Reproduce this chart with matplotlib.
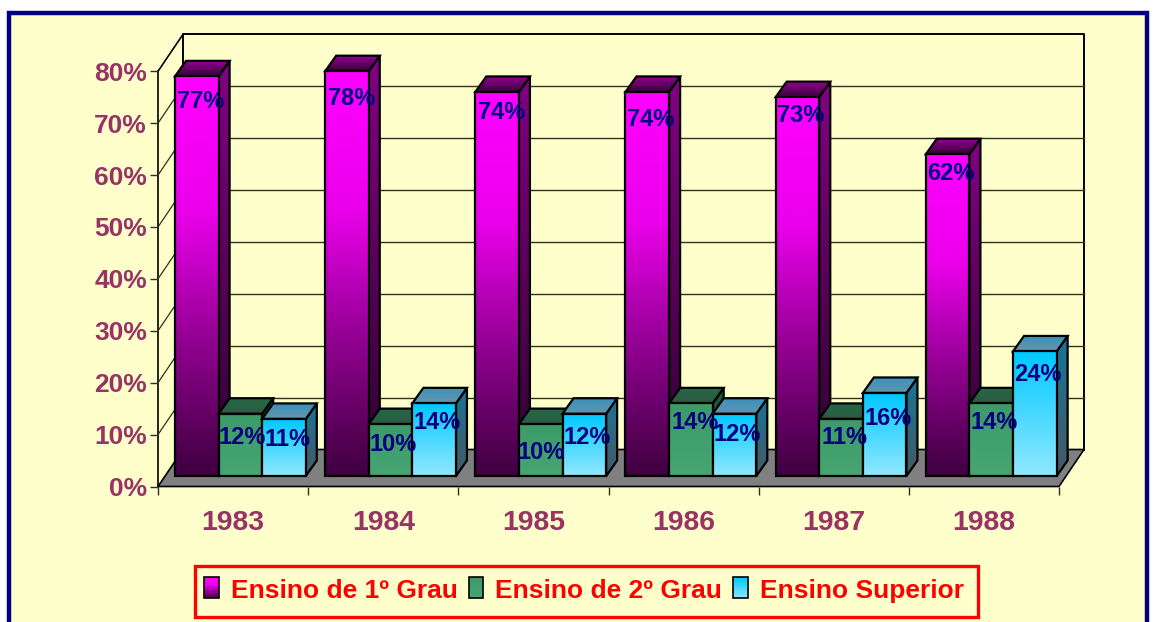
import numpy as np
import matplotlib
matplotlib.use('Agg')
import matplotlib.pyplot as plt
from matplotlib.patches import Polygon, Rectangle
from matplotlib.legend_handler import HandlerBase
from matplotlib.colors import LinearSegmentedColormap

plt.rcParams['font.family'] = ['Liberation Sans', 'DejaVu Sans']

# Data
years = ['1983', '1984', '1985', '1986', '1987', '1988']
ensino_1 = [77, 78, 74, 74, 73, 62]
ensino_2 = [12, 10, 10, 14, 11, 14]
ensino_sup = [11, 14, 12, 12, 16, 24]
series_names = ['Ensino de 1º Grau', 'Ensino de 2º Grau', 'Ensino Superior']
y_ticks = [0, 10, 20, 30, 40, 50, 60, 70, 80]

# Layout, pixels of the 1155x622 picture
W, H = 1155, 622
px_x, px_y = 150.17, 5.19     # pixels per category / per percent
wall_dx, wall_dy = 25 / px_x, 37 / px_y
bar_dx, bar_dy = 11 / px_x, 15.5 / px_y
base_dx, base_dy = 7 / px_x, 10.5 / px_y
bar_w = 43.6 / px_x
group_off = 10 / px_x

# label offset under the bar top, in pixels, same order as the series
label_drop = [[23, 25, 19, 26, 16, 17],
              [22, 18, 26, 17, 17, 17],
              [19, 17, 22, 19, 24, 21]]
# small sideways nudge of each label, pixels
label_shift = [[1, 2, 1, 0, 0, 0],
               [-1, 0, -3, 1, 0, 0],
               [1, 0, 0, 0, 0, 0]]

BG = '#FFFFCC'
TICK = '#993366'
NAVY = '#000080'

front = [[(255, 0, 255), (235, 0, 235), (145, 0, 145), (64, 0, 64)],
         [(60, 155, 105), (70, 165, 115)],
         [(0, 200, 255), (145, 232, 255)]]
side = [[(130, 0, 130), (45, 0, 45)],
        [(30, 85, 58), (35, 95, 65)],
        [(25, 115, 150), (70, 90, 100)]]
top = [[(150, 0, 150), (55, 0, 55)],
       [(35, 105, 70), (45, 90, 65)],
       [(55, 145, 190), (100, 150, 170)]]


def grad(stops):
    cm = LinearSegmentedColormap.from_list('g', [np.array(c) / 255 for c in stops])
    return cm(np.linspace(0, 1, 64))[:, None, :3]


def face(ax, pts, stops, z):
    xs = [p[0] for p in pts]
    ys = [p[1] for p in pts]
    poly = Polygon(pts, closed=True, fc='none', ec='black', lw=1.6, zorder=z + 0.01, clip_on=False)
    ax.add_patch(poly)
    im = ax.imshow(grad(stops), extent=(min(xs), max(xs), min(ys), max(ys)), origin='upper',
                   aspect='auto', interpolation='bilinear', zorder=z)
    # faces stick out of the axes box, so clip to the figure and the face only
    im.set_clip_box(ax.figure.bbox)
    im.set_clip_path(Polygon(pts, closed=True, transform=ax.transData))


fig = plt.figure(figsize=(W / 100, H / 100), dpi=100, facecolor='white')
fig.add_artist(Rectangle((9 / W, -10 / H), 1138 / W, (H - 13 + 10) / H, transform=fig.transFigure,
                         fc=BG, ec=NAVY, lw=3.2, zorder=-5))

ax = fig.add_axes([158 / W, (H - 486.5) / H, 901 / W, 415.2 / H])
ax.set_xlim(0, 6)
ax.set_ylim(0, 80)
ax.patch.set_visible(False)
for s in ax.spines.values():
    s.set_visible(False)

# Walls and floor
ax.add_patch(Polygon([(0, 0), (6, 0), (6 + wall_dx, wall_dy), (wall_dx, wall_dy)], fc='#808080', ec='black',
                     lw=1.2, zorder=1, clip_on=False))
ax.plot([wall_dx, wall_dx, 6 + wall_dx, 6 + wall_dx], [wall_dy, 80 + wall_dy, 80 + wall_dy, wall_dy],
        color='black', lw=1.4, zorder=1, clip_on=False)
ax.plot([0, wall_dx], [80, 80 + wall_dy], color='black', lw=1.2, zorder=1, clip_on=False)
ax.plot([0, 0], [0, 80], color='black', lw=1.2, zorder=1, clip_on=False)
for t in y_ticks[1:-1]:
    ax.plot([wall_dx, 6 + wall_dx], [t + wall_dy, t + wall_dy], color='#303020', lw=1, zorder=1, clip_on=False)
    ax.plot([0, wall_dx], [t, t + wall_dy], color='#303020', lw=0.9, zorder=1, clip_on=False)

# Bars
all_series = [ensino_1, ensino_2, ensino_sup]
z = 2
for i in range(len(years)):
    for j, vals in enumerate(all_series):
        v = vals[i]
        x0 = i + base_dx + group_off + j * bar_w
        x1 = x0 + bar_w
        y0 = base_dy
        y1 = base_dy + v
        face(ax, [(x1, y0), (x1 + bar_dx, y0 + bar_dy), (x1 + bar_dx, y1 + bar_dy), (x1, y1)], side[j], z)
        face(ax, [(x0, y1), (x1, y1), (x1 + bar_dx, y1 + bar_dy), (x0 + bar_dx, y1 + bar_dy)], top[j], z + 0.1)
        face(ax, [(x0, y0), (x1, y0), (x1, y1), (x0, y1)], front[j], z + 0.2)
        z += 1

# Value labels
for i in range(len(years)):
    for j, vals in enumerate(all_series):
        x0 = i + base_dx + group_off + j * bar_w
        ax.text(x0 + bar_w / 2 + (3 + label_shift[j][i]) / px_x,
                base_dy + vals[i] - (label_drop[j][i] + 2) / px_y, f'{vals[i]}%',
                color=NAVY, fontsize=17, fontweight='bold', ha='center', va='center', zorder=100, clip_on=False)

ax.set_xlim(0, 6)
ax.set_ylim(0, 80)
ax.set_yticks(y_ticks)
ax.set_yticklabels([f'{t}%' for t in y_ticks], color=TICK, fontsize=19, fontweight='bold')
ax.set_xticks(range(7))
ax.set_xticklabels([])
ax.set_xticks(np.arange(6) + 0.5, minor=True)
ax.set_xticklabels(years, minor=True, color=TICK, fontsize=20.4, fontweight='bold')
ax.tick_params(axis='y', length=6, width=1, color='#303020', pad=2)
ax.tick_params(axis='x', which='major', length=6, width=1, color='#303020')
ax.tick_params(axis='x', which='minor', length=0, pad=17)


class GradHandler(HandlerBase):
    def create_artists(self, legend, orig, xd, yd, width, height, fontsize, trans):
        out = []
        cols = grad(orig.stops)[:, 0, :]
        n = 16
        for k in range(n):
            c = cols[int(k / n * 63)]
            out.append(Rectangle((0, height * (1 - (k + 1) / n)), width, height / n + 0.3, fc=c, ec='none',
                                 transform=trans))
        out.append(Rectangle((0, 0), width, height, fc='none', ec='black', lw=1.2, transform=trans))
        return out


handles = []
for j, name in enumerate(series_names):
    h = Rectangle((0, 0), 1, 1, label=name)
    h.stops = front[j]
    handles.append(h)

fig.add_artist(Rectangle((195 / W, (H - 617) / H), 783 / W, 51 / H, transform=fig.transFigure, fc=BG, ec='red',
                         lw=2.4, zorder=-4))
leg = fig.legend(handles=handles, handler_map={Rectangle: GradHandler()}, ncol=3, loc='center',
                 bbox_to_anchor=(584 / W, (H - 591) / H), frameon=False,
                 prop={'size': 19, 'weight': 'bold'}, labelcolor='red', columnspacing=0.42, handletextpad=0.45,
                 handlelength=0.55, handleheight=0.85, borderpad=0, borderaxespad=0)

fig.savefig('out.png', dpi=100)
